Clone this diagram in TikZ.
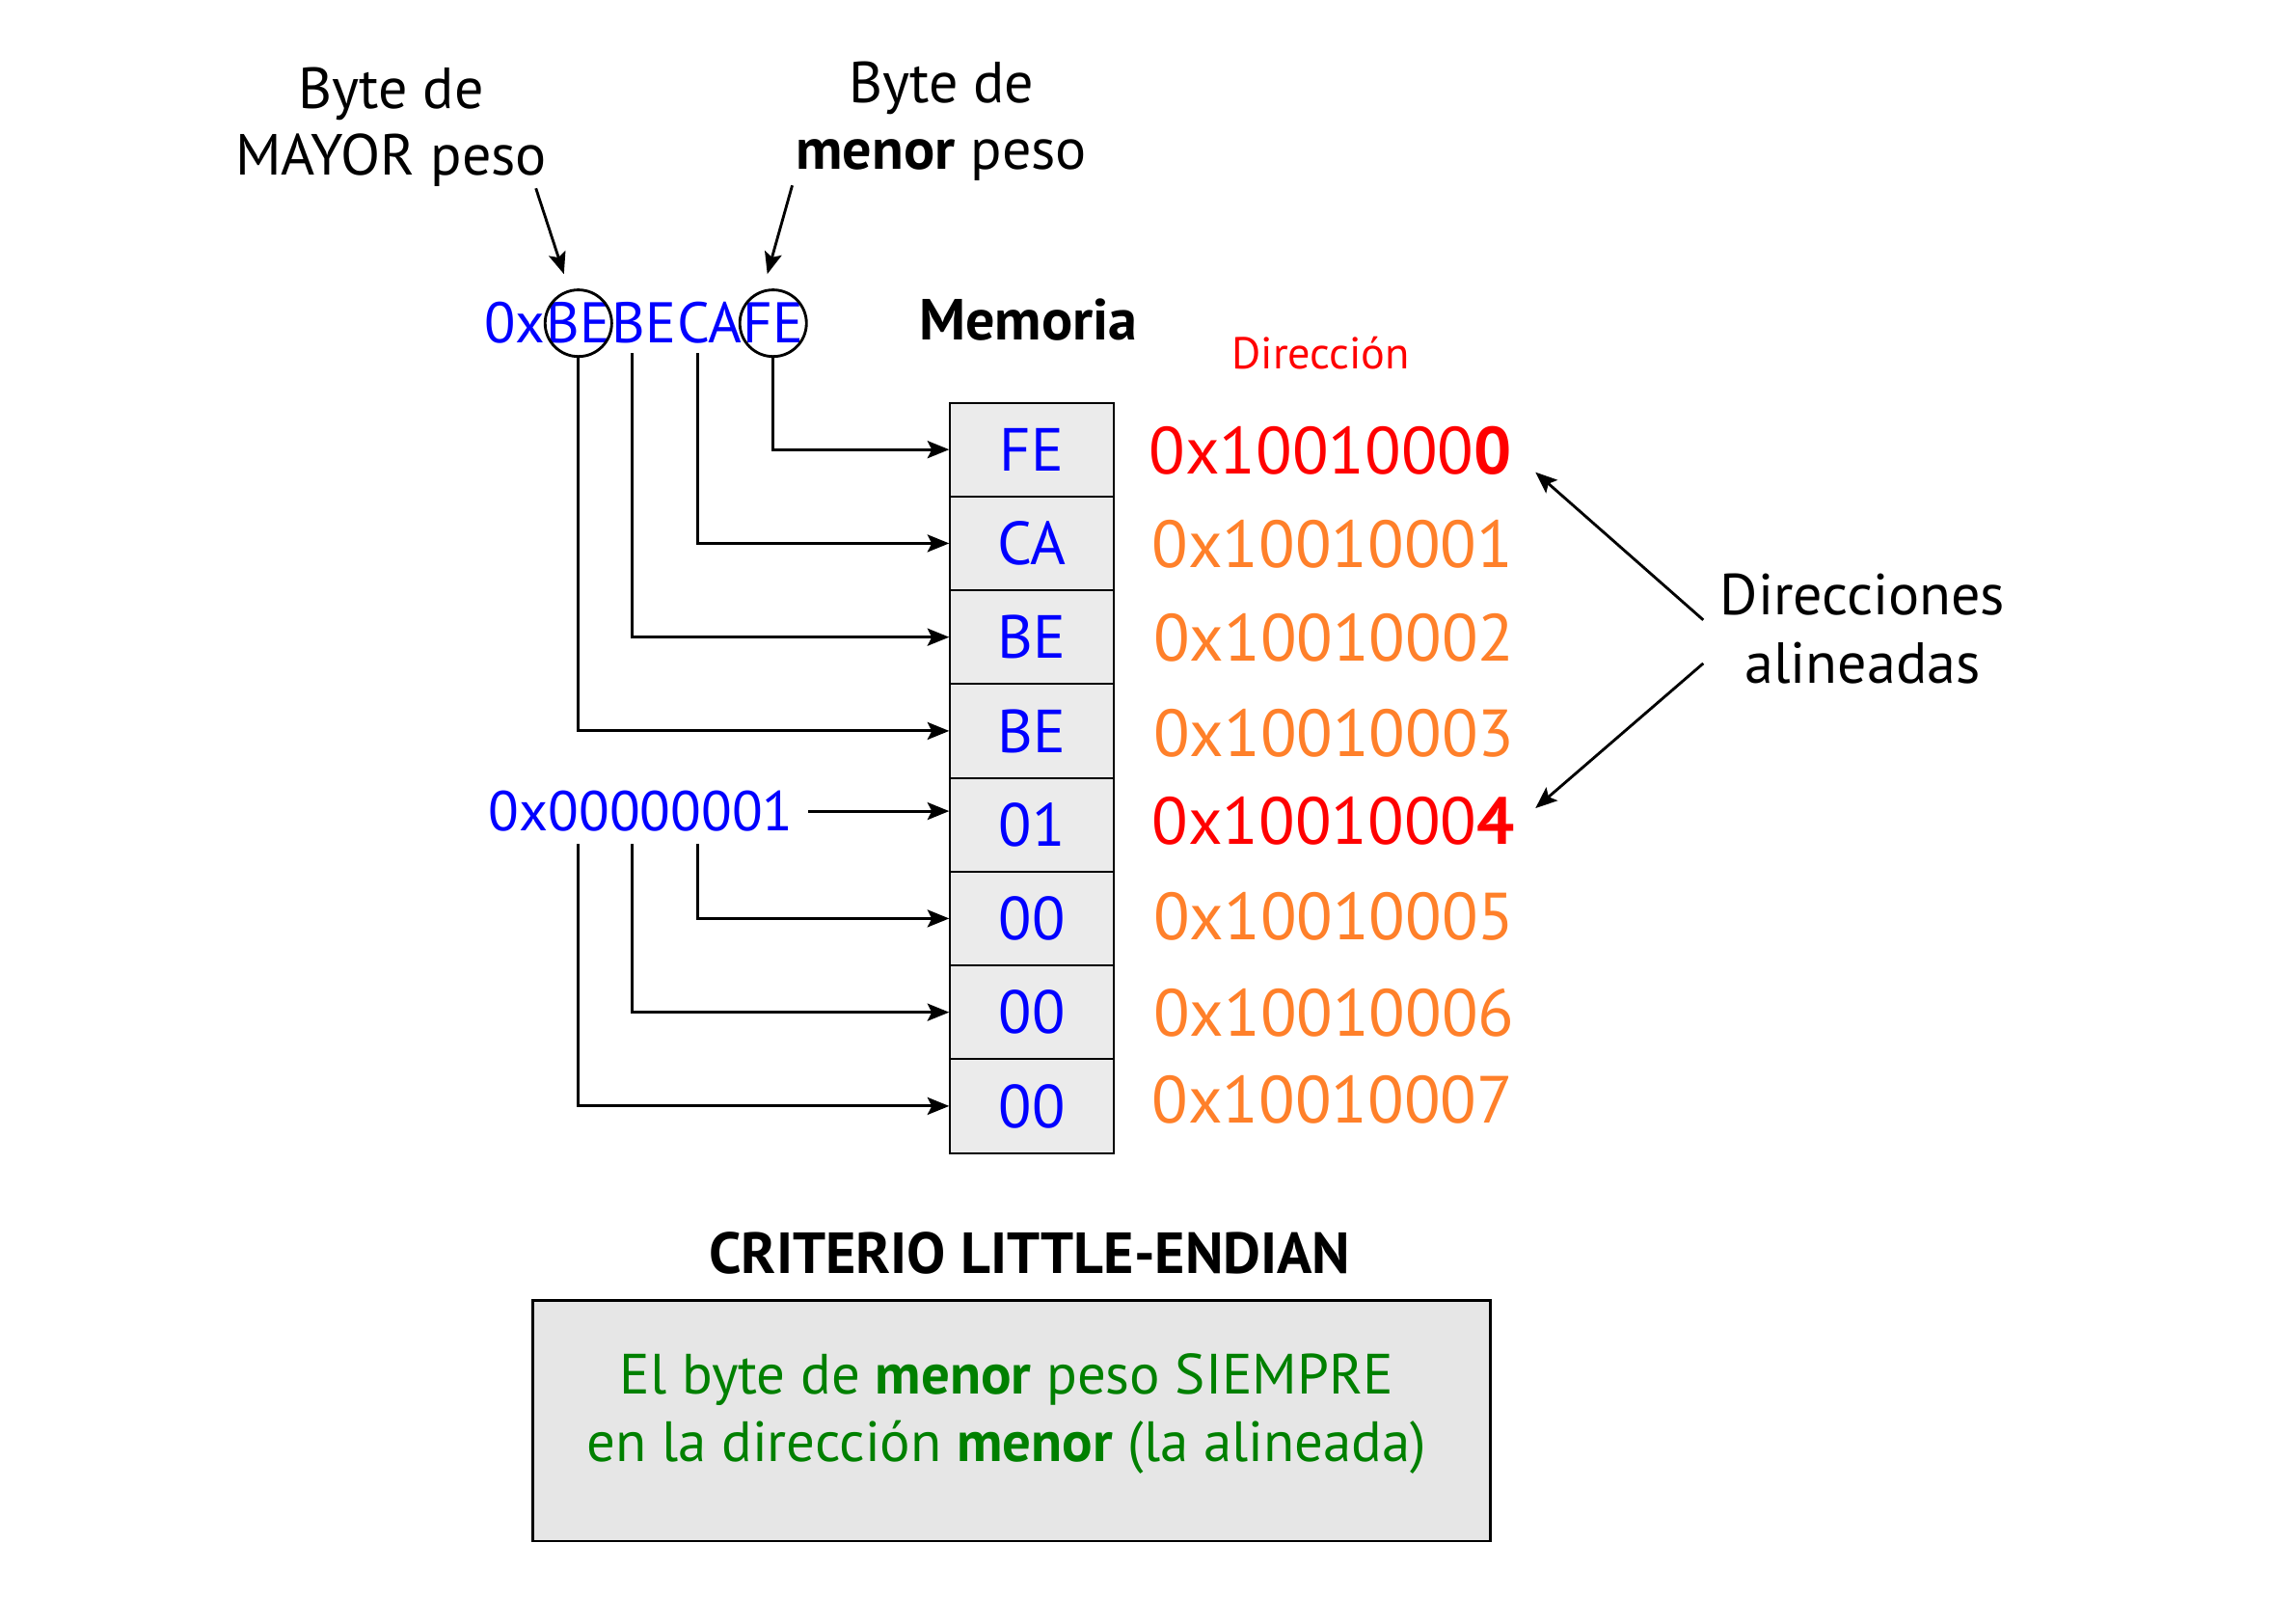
\documentclass[tikz,border=0pt]{standalone}
\usepackage{fontspec}
\setmainfont{PT Sans}
\usetikzlibrary{arrows.meta,calc}
\definecolor{cblue}{RGB}{0,0,255}
\definecolor{cred}{RGB}{255,0,0}
\definecolor{corange}{RGB}{255,128,42}
\definecolor{cgreen}{RGB}{0,128,0}
\definecolor{cellgray}{RGB}{235,235,235}
\definecolor{boxgray}{RGB}{230,230,230}
\begin{document}
\begin{tikzpicture}[x=0.5pt,y=-0.5pt,
  line/.style={line width=0.95pt},
  arr/.style={line, -{Stealth[length=7.5pt,width=6pt,inset=1.5pt]}},
  cell/.style={draw, line width=0.65pt, fill=cellgray, minimum width=56.5pt, minimum height=32.375pt, inner sep=0pt, font=\fontsize{21}{25}\selectfont, text=cblue},
  addr/.style={anchor=west, inner sep=0pt, font=\fontsize{23}{28}\selectfont},
  hexpart/.style={inner sep=0pt, font=\fontsize{19.8}{24}\selectfont, text=cblue, anchor=base west},
  lbl/.style={align=center, font=\fontsize{20}{23}\selectfont, inner sep=0pt},
  ring/.style={draw, circle, line width=0.95pt, minimum size=23pt, inner sep=0pt},
]
\useasboundingbox (0,0) rectangle (1568,1121);

% top labels
\node[lbl] (mayor) at (270,88) {Byte de\\MAYOR peso};
\node[lbl] (menor) at (650,84) {Byte de\\\textbf{menor} peso};

% hex word
\node[hexpart] (h0) at (334,237) {0x};
\node[hexpart] (h1) at (h0.base east) {BE};
\node[hexpart] (h2) at (h1.base east) {BE};
\node[hexpart] (h3) at (h2.base east) {CA};
\node[hexpart] (h4) at (h3.base east) {FE};
\node[ring] (o1) at (h1.center) {};
\node[ring] (o2) at (h4.center) {};

\coordinate (m1) at (370,130);
\coordinate (m2) at (547,128);
\draw[arr] (m1) -- ($(o1.north)+(-10,-10)$);
\draw[arr] (m2) -- ($(o2.north)+(-4,-10)$);

\node[font=\fontsize{20}{24}\selectfont\bfseries] (mem) at (710,221) {Memoria};
\node[font=\fontsize{15.4}{18}\selectfont, text=cred] (dir) at (912,244) {Dirección};

% memory cells
\foreach \t [count=\i] in {FE,CA,BE,BE,01,00,00,00}
  \node[cell] (c\i) at (712.5,{278+32.375+64.75*(\i-1)}) {\t};

% addresses
\node[addr, text=cred]    (a1) at (793,311) {0x1001000\textbf{0}};
\node[addr, text=corange] (a2) at (795,376) {0x10010001};
\node[addr, text=corange] (a3) at (796,440) {0x10010002};
\node[addr, text=corange] (a4) at (796,506) {0x10010003};
\node[addr, text=cred]    (a5) at (795,567) {0x1001000\textbf{4}};
\node[addr, text=corange] (a6) at (796,633) {0x10010005};
\node[addr, text=corange] (a7) at (796,699) {0x10010006};
\node[addr, text=corange] (a8) at (795,759) {0x10010007};

% aligned label
\node[align=center, font=\fontsize{20}{23.5}\selectfont, inner sep=0pt] (ali) at (1286,434) {Direcciones\\alineadas};
\coordinate (d1) at (1176,428);
\coordinate (d2) at (1176,458);
\draw[arr] (d1) -- ($(a1.east)+(16,15)$);
\draw[arr] (d2) -- ($(a5.east)+(14,-9)$);

% upper connectors
\draw[arr] (o1.south) |- (c4.west);
\draw[arr] ($(h2.south)+(-8,6)$) |- (c3.west);
\draw[arr] ($(h3.south)+(-8,6)$) |- (c2.west);
\draw[arr] (o2.south) |- (c1.west);

% lower word
\node[anchor=west, inner sep=0pt, font=\fontsize{19.4}{24}\selectfont, text=cblue] (low) at (337,560) {0x00000001};
\draw[arr] ($(low.east)+(10,0)$) -- (low.east -| c5.west);
\draw[arr] ($(h3.south |- low.south)+(-8,8)$) |- (c6.west);
\draw[arr] ($(h2.south |- low.south)+(-8,8)$) |- (c7.west);
\draw[arr] ($(o1.center |- low.south)+(0,8)$) |- (c8.west);

% criterion
\node[font=\fontsize{20}{24}\selectfont\bfseries] (crit) at (711,865) {CRITERIO LITTLE-ENDIAN};
\node[draw, line width=0.95pt, fill=boxgray, minimum width=330.5pt, minimum height=83pt, inner sep=0pt] (box) at (698.5,981) {};
\node[align=center, text=cgreen, font=\fontsize{19.6}{23.5}\selectfont, inner sep=0pt] (boxtxt) at (695,976) {El byte de \textbf{menor} peso SIEMPRE\\en la dirección \textbf{menor} (la alineada)};
\end{tikzpicture}
\end{document}
